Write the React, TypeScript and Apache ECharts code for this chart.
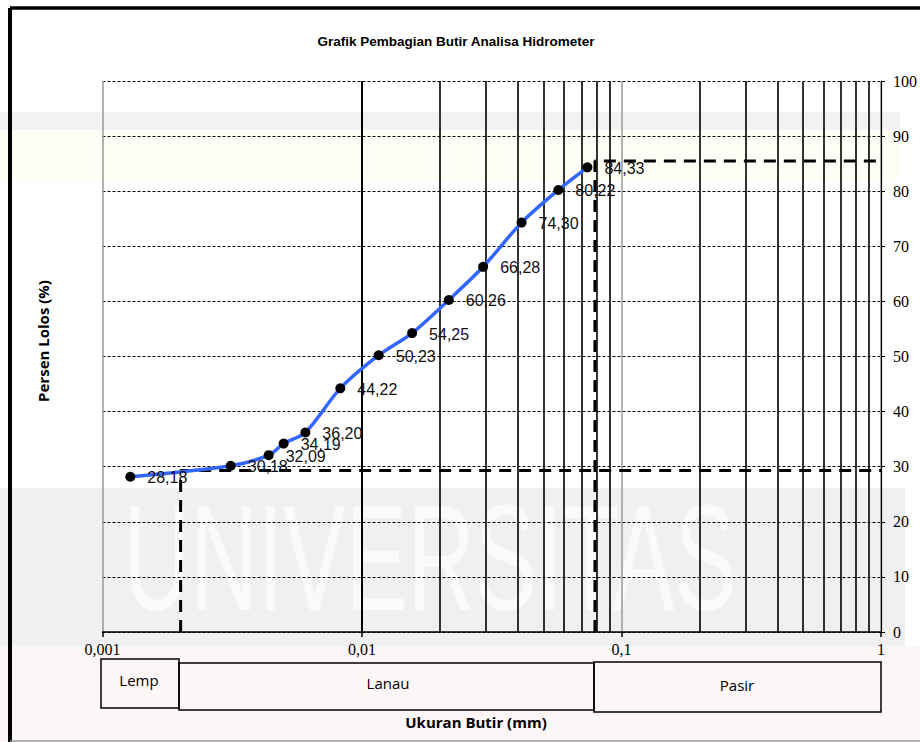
import React, { useEffect, useRef } from "react";
import * as echarts from "echarts";

// Grain size (mm) and percent passing
const grainSize = [0.00128, 0.00312, 0.00437, 0.00499, 0.00605, 0.00825, 0.0116, 0.0156, 0.0216, 0.0293, 0.0412, 0.0571, 0.0739];
const percentPassing = [28.18, 30.18, 32.09, 34.19, 36.2, 44.22, 50.23, 54.25, 60.26, 66.28, 74.3, 80.22, 84.33];

// Dashed reference lines: [grain size, percent]
const clayRef = [0.002, 29.3];
const sandRef = [0.079, 85.5];

// Minor (log) vertical grid lines
const minorGrid = [
  0.002, 0.003, 0.004, 0.005, 0.006, 0.007, 0.008, 0.009,
  0.02, 0.03, 0.04, 0.05, 0.06, 0.07, 0.08, 0.09,
  0.2, 0.3, 0.4, 0.5, 0.6, 0.7, 0.8, 0.9,
];

const zoneNames = ["Lemp", "Lanau", "Pasir"];
const titleText = "Grafik Pembagian Butir Analisa Hidrometer";
const xAxisTitle = "Ukuran Butir (mm)";
const yAxisTitle = "Persen Lolos (%)";

const fmtComma = (v: number, digits?: number) => {
  const s = digits === undefined ? String(parseFloat(v.toPrecision(6))) : v.toFixed(digits);
  return s.replace(".", ",");
};

export default function App() {
  const ref = useRef<HTMLDivElement>(null);

  useEffect(() => {
    document.body.style.margin = "0";
    if (!ref.current) return;
    const chart = echarts.init(ref.current, undefined, { renderer: "svg" });

    const refLineStyle = { color: "#000", width: 3, type: [12, 8] as number[] };

    const option: any = {
      animation: false,
      backgroundColor: "#fff",
      grid: { left: 102.5, right: 37.5, top: 81, bottom: 110, containLabel: false },
      xAxis: {
        type: "log",
        logBase: 10,
        min: 0.001,
        max: 1,
        axisLine: { onZero: false, lineStyle: { color: "#000", width: 1.5 } },
        axisTick: { show: true, length: 5, lineStyle: { color: "#000", width: 1.5 } },
        axisLabel: {
          margin: 9,
          fontFamily: "Liberation Serif",
          fontSize: 16,
          color: "#000",
          formatter: (v: number) => fmtComma(v),
        },
        splitLine: { show: true, lineStyle: { color: "#999", width: 1.5 } },
      },
      yAxis: {
        type: "value",
        position: "right",
        min: 0,
        max: 100,
        interval: 10,
        axisLine: { show: true, lineStyle: { color: "#000", width: 1.2 } },
        axisTick: { show: true, length: 4, lineStyle: { color: "#000" } },
        axisLabel: { margin: 12, fontFamily: "Liberation Serif", fontSize: 16, color: "#000" },
        splitLine: { show: true, lineStyle: { color: "#000", width: 1, type: [3, 2] } },
      },
      graphic: [
        // watermark background
        { type: "rect", z: -10, silent: true, shape: { x: 0, y: 112, width: 900, height: 18 }, style: { fill: "#f2f2f4" } },
        { type: "rect", z: -10, silent: true, shape: { x: 0, y: 130, width: 900, height: 50 }, style: { fill: "#fffef6" } },
        { type: "rect", z: -10, silent: true, shape: { x: 0, y: 488, width: 905, height: 158 }, style: { fill: "#f0f0f3" } },
        { type: "rect", z: -10, silent: true, shape: { x: 0, y: 646, width: 920, height: 96 }, style: { fill: "#fdf6f6" } },
        {
          type: "text", z: -9, silent: true, x: 430, y: 558, scaleX: 0.62,
          style: { text: "UNIVERSITAS", fill: "#fafafb", font: "150px 'Liberation Sans'", textAlign: "center", textVerticalAlign: "middle" },
        },
        // outer frame
        { type: "line", shape: { x1: 10, y1: 8, x2: 920, y2: 8 }, style: { stroke: "#000", lineWidth: 3.5 } },
        { type: "line", shape: { x1: 10, y1: 8, x2: 10, y2: 742 }, style: { stroke: "#000", lineWidth: 4 } },
        { type: "line", shape: { x1: 10, y1: 741, x2: 920, y2: 741 }, style: { stroke: "#999", lineWidth: 1.5 } },
        // title
        {
          type: "text", x: 456, y: 41,
          style: { text: titleText, fill: "#000", font: "bold 13.5px 'Liberation Sans'", textAlign: "center", textVerticalAlign: "middle" },
        },
        // y axis title
        {
          type: "text", x: 42.5, y: 341, rotation: Math.PI / 2,
          style: { text: yAxisTitle, fill: "#000", font: "bold 15px 'Open Sans'", textAlign: "center", textVerticalAlign: "middle" },
        },
        // zone boxes
        { type: "rect", shape: { x: 101, y: 659, width: 78, height: 49 }, style: { fill: "none", stroke: "#000", lineWidth: 1.5 } },
        { type: "rect", shape: { x: 179, y: 663, width: 415, height: 47 }, style: { fill: "none", stroke: "#000", lineWidth: 1.5 } },
        { type: "rect", shape: { x: 594, y: 662, width: 287, height: 50 }, style: { fill: "none", stroke: "#000", lineWidth: 1.5 } },
        {
          type: "text", x: 139, y: 680,
          style: { text: zoneNames[0], fill: "#000", font: "15px 'Open Sans'", textAlign: "center", textVerticalAlign: "middle" },
        },
        {
          type: "text", x: 388, y: 683,
          style: { text: zoneNames[1], fill: "#000", font: "15px 'Open Sans'", textAlign: "center", textVerticalAlign: "middle" },
        },
        {
          type: "text", x: 737, y: 685,
          style: { text: zoneNames[2], fill: "#000", font: "15px 'Open Sans'", textAlign: "center", textVerticalAlign: "middle" },
        },
        // x axis title
        {
          type: "text", x: 476, y: 722,
          style: { text: xAxisTitle, fill: "#000", font: "bold 15px 'Open Sans'", textAlign: "center", textVerticalAlign: "middle" },
        },
      ],
      series: [
        {
          type: "line",
          z: 1,
          silent: true,
          symbol: "none",
          data: [
            [clayRef[0], 0],
            [clayRef[0], clayRef[1]],
            [1, clayRef[1]],
          ],
          lineStyle: refLineStyle,
          markLine: {
            silent: true,
            symbol: ["none", "none"],
            label: { show: false },
            lineStyle: { color: "#000", width: 1.6, type: "solid", opacity: 1 },
            data: minorGrid.map((v) => ({ xAxis: v })),
          },
        },
        {
          type: "line",
          z: 2,
          silent: true,
          symbol: "none",
          data: [
            [sandRef[0], 0],
            [sandRef[0], sandRef[1]],
            [1, sandRef[1]],
          ],
          lineStyle: refLineStyle,
        },
        {
          type: "line",
          z: 5,
          smooth: 0.3,
          data: grainSize.map((g, i) => [g, percentPassing[i]]),
          lineStyle: { color: "#3366ff", width: 3.5 },
          symbol: "circle",
          symbolSize: 10,
          itemStyle: { color: "#000" },
          label: {
            show: true,
            position: "right",
            distance: 12,
            offset: [0, 1],
            fontFamily: "Liberation Sans",
            fontSize: 16,
            color: "#111",
            formatter: (p: any) => fmtComma(p.value[1], 2),
          },
        },
      ],
    };

    chart.setOption(option);
    return () => chart.dispose();
  }, []);

  return <div ref={ref} style={{ width: 920, height: 742 }} />;
}
